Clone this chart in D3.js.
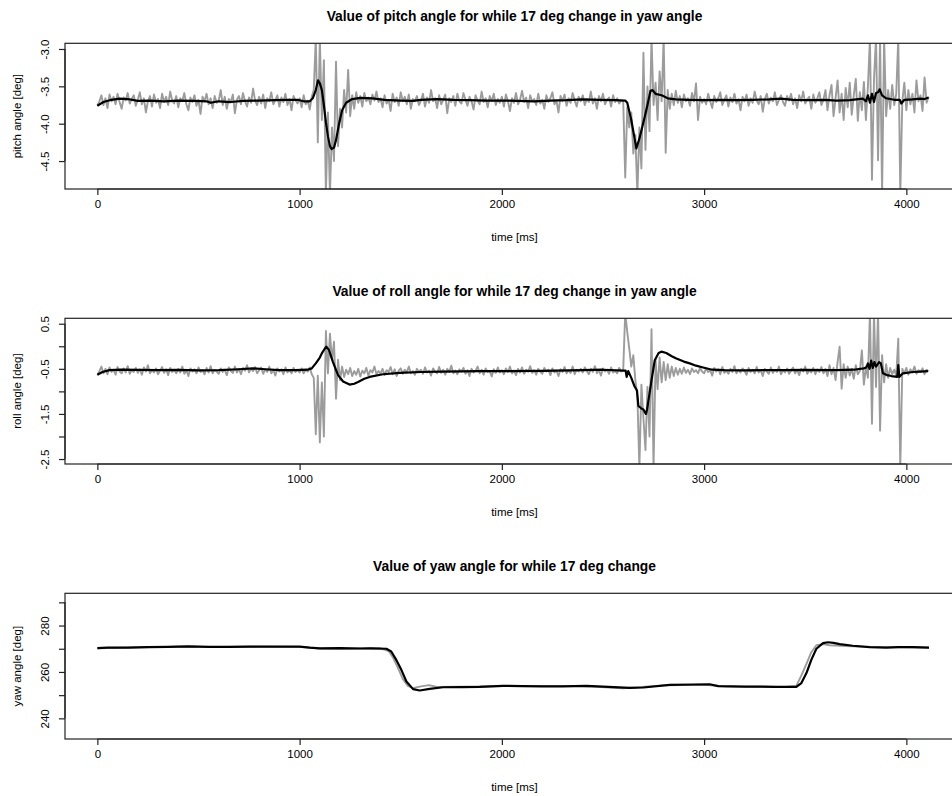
<!DOCTYPE html>
<html>
<head>
<meta charset="utf-8">
<script src="https://cdn.jsdelivr.net/npm/d3@7"></script>
<style>
  html, body { margin: 0; padding: 0; background: #fff; }
  svg { display: block; }
  text { font-family: "Liberation Sans", Arial, Helvetica, sans-serif; fill: #000; }
</style>
</head>
<body>
<svg id="chart" width="952" height="796"></svg>
<script>
// ---------------- DATA ----------------
const titles = [
  "Value of pitch angle for while 17 deg change in yaw angle",
  "Value of roll angle for while 17 deg change in yaw angle",
  "Value of yaw angle for while 17 deg change"
];
const yLabels = ["pitch angle [deg]", "roll angle [deg]", "yaw angle [deg]"];
const xLabel = "time [ms]";
const xTicks = [0, 1000, 2000, 3000, 4000];

const pitchTicks = [-3.0, -3.5, -4.0, -4.5];
const pitchTickLabels = ["-3.0", "-3.5", "-4.0", "-4.5"];
const rollTicks = [0.5, 0, -0.5, -1, -1.5, -2, -2.5];
const rollTickLabels = ["0.5", "", "-0.5", "", "-1.5", "", "-2.5"];
const yawTicks = [290, 280, 270, 260, 250, 240];
const yawTickLabels = ["", "280", "", "260", "", "240"];

// raw samples, every 10 ms from 0 to 4110 ms
const rawStep = 10;
const pitchRaw = [
  -3.76, -3.70, -3.62, -3.75, -3.66, -3.79, -3.61, -3.70, -3.64, -3.74, -3.60, -3.71, -3.80, -3.65, -3.69, -3.59, -3.73, -3.67, -3.62, -3.76,
  -3.68, -3.58, -3.74, -3.66, -3.85, -3.70, -3.63, -3.77, -3.61, -3.72, -3.67, -3.79, -3.60, -3.71, -3.64, -3.75, -3.57, -3.69, -3.73, -3.63,
  -3.78, -3.66, -3.70, -3.59, -3.74, -3.82, -3.65, -3.71, -3.62, -3.76, -3.68, -3.87, -3.64, -3.70, -3.60, -3.74, -3.66, -3.79, -3.63, -3.72,
  -3.69, -3.55, -3.75, -3.64, -3.80, -3.67, -3.71, -3.61, -3.86, -3.68, -3.63, -3.74, -3.59, -3.70, -3.77, -3.65, -3.72, -3.53, -3.69, -3.75,
  -3.64, -3.73, -3.61, -3.79, -3.66, -3.70, -3.58, -3.74, -3.68, -3.62, -3.77, -3.65, -3.71, -3.60, -3.75, -3.67, -3.82, -3.63, -3.69, -3.73,
  -3.66, -3.78, -3.62, -3.74, -3.69, -3.81, -3.64, -3.55, -2.85, -4.25, -2.85, -3.95, -3.15, -4.95, -3.85, -4.95, -4.05, -4.50, -3.17, -4.30,
  -3.80, -4.05, -3.55, -3.85, -3.28, -3.90, -3.62, -3.80, -3.58, -3.72, -3.63, -3.77, -3.59, -3.70, -3.65, -3.74, -3.61, -3.69, -3.57, -3.71,
  -3.66, -3.78, -3.62, -3.73, -3.68, -3.83, -3.60, -3.71, -3.65, -3.76, -3.58, -3.70, -3.64, -3.74, -3.61, -3.80, -3.67, -3.70, -3.63, -3.75,
  -3.69, -3.60, -3.77, -3.65, -3.72, -3.55, -3.70, -3.66, -3.79, -3.62, -3.74, -3.68, -3.61, -3.86, -3.66, -3.71, -3.63, -3.76, -3.60, -3.70,
  -3.73, -3.59, -3.68, -3.76, -3.64, -3.70, -3.81, -3.62, -3.69, -3.74, -3.57, -3.71, -3.66, -3.78, -3.63, -3.70, -3.60, -3.75, -3.67, -3.72,
  -3.64, -3.77, -3.61, -3.70, -3.83, -3.66, -3.72, -3.59, -3.74, -3.68, -3.56, -3.71, -3.65, -3.79, -3.62, -3.70, -3.67, -3.75, -3.60, -3.73,
  -3.68, -3.80, -3.62, -3.71, -3.66, -3.58, -3.74, -3.69, -3.85, -3.63, -3.70, -3.61, -3.76, -3.66, -3.72, -3.59, -3.69, -3.77, -3.64, -3.70,
  -3.62, -3.75, -3.67, -3.71, -3.57, -3.73, -3.66, -3.80, -3.63, -3.70, -3.60, -3.74, -3.68, -3.65, -3.77, -3.62, -3.71, -3.66, -3.73, -3.69,
  -3.70, -4.72, -3.78, -4.05, -3.85, -4.40, -4.15, -4.95, -4.05, -4.60, -3.05, -4.35, -3.50, -4.10, -2.85, -3.75, -3.45, -3.95, -3.30, -3.70,
  -2.85, -4.39, -3.55, -3.80, -3.60, -3.75, -3.56, -3.72, -3.63, -3.78, -3.61, -3.70, -3.66, -3.76, -3.59, -3.70, -3.46, -3.95, -3.64, -3.72,
  -3.67, -3.74, -3.60, -3.70, -3.79, -3.63, -3.71, -3.66, -3.58, -3.75, -3.68, -3.62, -3.77, -3.65, -3.71, -3.60, -3.73, -3.67, -3.82, -3.64,
  -3.70, -3.61, -3.76, -3.66, -3.72, -3.57, -3.69, -3.74, -3.63, -3.84, -3.67, -3.60, -3.73, -3.65, -3.70, -3.58, -3.75, -3.68, -3.62, -3.71,
  -3.76, -3.63, -3.69, -3.60, -3.74, -3.66, -3.79, -3.62, -3.70, -3.57, -3.73, -3.67, -3.64, -3.80, -3.61, -3.72, -3.66, -3.58, -3.75, -3.68,
  -3.55, -3.82, -3.62, -3.48, -3.90, -3.66, -3.42, -3.85, -3.60, -3.95, -3.52, -3.78, -3.45, -3.88, -3.62, -3.40, -3.96, -3.58, -3.82, -3.44,
  -3.95, -3.50, -2.85, -4.75, -3.40, -2.85, -4.49, -2.85, -4.95, -2.85, -3.90, -3.55, -3.80, -3.48, -3.75, -3.60, -2.85, -4.95, -3.70, -3.45,
  -3.82, -3.55, -3.74, -3.60, -3.85, -3.42, -3.70, -3.62, -3.83, -3.38, -3.72, -3.64
];
const rollRaw = [
  -0.64, -0.55, -0.45, -0.60, -0.50, -0.62, -0.47, -0.57, -0.52, -0.63, -0.46, -0.56, -0.60, -0.49, -0.58, -0.44, -0.61, -0.53, -0.57, -0.48,
  -0.59, -0.51, -0.63, -0.47, -0.56, -0.42, -0.60, -0.53, -0.58, -0.49, -0.62, -0.54, -0.46, -0.59, -0.51, -0.64, -0.48, -0.57, -0.52, -0.60,
  -0.50, -0.58, -0.45, -0.61, -0.53, -0.66, -0.49, -0.56, -0.51, -0.60, -0.47, -0.57, -0.53, -0.62, -0.48, -0.58, -0.44, -0.60, -0.52, -0.56,
  -0.61, -0.49, -0.57, -0.52, -0.64, -0.47, -0.55, -0.59, -0.45, -0.58, -0.50, -0.62, -0.48, -0.54, -0.42, -0.58, -0.49, -0.55, -0.46, -0.60,
  -0.53, -0.47, -0.61, -0.51, -0.57, -0.45, -0.60, -0.52, -0.65, -0.49, -0.56, -0.51, -0.62, -0.47, -0.58, -0.53, -0.60, -0.48, -0.57, -0.52,
  -0.58, -0.49, -0.60, -0.52, -0.56, -0.47, -0.62, -0.70, -1.95, -0.65, -2.13, -0.80, -2.00, 0.34, -0.60, 0.28, -0.30, 0.10, -1.16, -0.30,
  -0.75, -0.45, -0.68, -0.52, -0.62, -0.48, -0.66, -0.55, -0.63, -0.50, -0.67, -0.54, -0.60, -0.48, -0.65, -0.53, -0.58, -0.45, -0.62, -0.55,
  -0.60, -0.50, -0.64, -0.53, -0.57, -0.46, -0.62, -0.51, -0.66, -0.54, -0.49, -0.61, -0.52, -0.58, -0.45, -0.60, -0.55, -0.63, -0.50, -0.57,
  -0.52, -0.61, -0.47, -0.58, -0.54, -0.65, -0.49, -0.56, -0.60, -0.46, -0.59, -0.52, -0.63, -0.50, -0.57, -0.43, -0.60, -0.54, -0.62, -0.51,
  -0.56, -0.48, -0.61, -0.53, -0.66, -0.50, -0.58, -0.54, -0.45, -0.60, -0.52, -0.63, -0.49, -0.57, -0.55, -0.67, -0.51, -0.59, -0.47, -0.58,
  -0.53, -0.62, -0.49, -0.57, -0.45, -0.60, -0.54, -0.64, -0.50, -0.58, -0.47, -0.61, -0.52, -0.56, -0.44, -0.59, -0.53, -0.63, -0.50, -0.57,
  -0.61, -0.48, -0.56, -0.52, -0.64, -0.49, -0.58, -0.54, -0.66, -0.51, -0.57, -0.46, -0.60, -0.53, -0.59, -0.45, -0.62, -0.52, -0.56, -0.50,
  -0.58, -0.47, -0.55, -0.62, -0.50, -0.57, -0.44, -0.60, -0.53, -0.65, -0.49, -0.56, -0.52, -0.61, -0.47, -0.58, -0.54, -0.60, -0.48, -0.56,
  -0.52, 0.75, 0.32, -0.05, -0.45, -0.20, -0.75, -1.10, -2.70, -0.85, -1.60, -2.30, -0.90, -2.00, 0.38, -2.70, -0.30, -0.95, -0.25, -0.80,
  -0.35, -0.75, -0.40, -0.70, -0.45, -0.66, -0.48, -0.63, -0.50, -0.61, -0.47, -0.59, -0.52, -0.62, -0.49, -0.57, -0.53, -0.60, -0.48, -0.56,
  -0.60, -0.49, -0.57, -0.53, -0.65, -0.48, -0.56, -0.51, -0.62, -0.46, -0.59, -0.54, -0.61, -0.50, -0.57, -0.44, -0.60, -0.52, -0.58, -0.49,
  -0.55, -0.63, -0.48, -0.57, -0.52, -0.60, -0.46, -0.58, -0.53, -0.66, -0.50, -0.56, -0.61, -0.47, -0.59, -0.52, -0.57, -0.45, -0.62, -0.53,
  -0.58, -0.49, -0.61, -0.54, -0.47, -0.60, -0.52, -0.64, -0.50, -0.56, -0.45, -0.61, -0.53, -0.58, -0.48, -0.62, -0.51, -0.57, -0.46, -0.60,
  -0.50, -0.66, -0.42, -0.62, -0.48, -0.75, -0.35, -0.01, -0.94, -0.40, -0.70, -0.45, -0.65, -0.50, -0.72, -0.42, -0.62, -0.55, -0.09, -0.85,
  -0.45, -0.70, 0.75, -1.72, 0.75, -0.90, 0.75, -1.87, -0.20, -0.80, -0.40, -0.70, -0.48, -0.62, -0.52, -0.66, 0.17, -2.70, -0.50, -0.60,
  -0.48, -0.63, -0.51, -0.58, -0.45, -0.61, -0.53, -0.57, -0.49, -0.62, -0.52, -0.56
];

// smoothed series (time ms, value deg)
const pitchSmoothT = [0,30,70,110,150,200,260,330,400,480,540,560,600,660,720,800,880,950,990,1020,1050,1065,1080,1091,1100,1110,1120,1130,1140,1150,1158,1170,1180,1195,1210,1230,1260,1300,1360,1420,1500,1560,1600,1680,1760,1840,1920,2000,2080,2160,2240,2320,2400,2480,2560,2610,2620,2640,2665,2680,2700,2720,2735,2745,2760,2790,2820,2860,2920,3000,3080,3160,3240,3320,3380,3440,3520,3600,3654,3720,3785,3800,3810,3820,3830,3840,3850,3860,3868,3880,3900,3940,3967,3975,3990,4030,4070,4090,4110];
const pitchSmoothV = [-3.76,-3.71,-3.68,-3.665,-3.67,-3.695,-3.69,-3.70,-3.69,-3.695,-3.70,-3.72,-3.70,-3.71,-3.695,-3.69,-3.685,-3.68,-3.68,-3.70,-3.70,-3.66,-3.55,-3.42,-3.46,-3.55,-3.75,-3.98,-4.17,-4.30,-4.34,-4.32,-4.22,-4.00,-3.82,-3.72,-3.67,-3.655,-3.66,-3.68,-3.69,-3.695,-3.68,-3.67,-3.68,-3.685,-3.69,-3.69,-3.695,-3.70,-3.69,-3.685,-3.675,-3.68,-3.685,-3.69,-3.72,-3.95,-4.33,-4.20,-3.98,-3.75,-3.56,-3.55,-3.60,-3.62,-3.66,-3.675,-3.68,-3.685,-3.68,-3.685,-3.68,-3.675,-3.665,-3.68,-3.685,-3.68,-3.69,-3.685,-3.665,-3.70,-3.62,-3.72,-3.60,-3.71,-3.59,-3.58,-3.54,-3.62,-3.66,-3.68,-3.68,-3.73,-3.68,-3.675,-3.665,-3.67,-3.65];

const rollSmoothT = [0,25,60,120,200,300,400,500,600,700,770,830,900,980,1040,1060,1080,1100,1112,1125,1132,1145,1165,1190,1215,1247,1270,1289,1320,1346,1412,1495,1600,1700,1890,2000,2200,2400,2500,2600,2612,2617,2625,2640,2655,2668,2675,2690,2700,2712,2718,2725,2740,2756,2775,2789,2813,2840,2863,2900,2929,2960,2995,3040,3100,3200,3300,3400,3500,3600,3654,3740,3790,3802,3810,3818,3826,3834,3842,3850,3865,3874,3884,3905,3926,3955,3960,3965,3983,4033,4070,4107];
const rollSmoothV = [-0.63,-0.57,-0.53,-0.52,-0.525,-0.53,-0.525,-0.535,-0.53,-0.51,-0.49,-0.51,-0.53,-0.53,-0.52,-0.49,-0.38,-0.25,-0.14,-0.05,-0.01,-0.08,-0.35,-0.64,-0.78,-0.85,-0.83,-0.79,-0.72,-0.68,-0.62,-0.59,-0.57,-0.56,-0.55,-0.55,-0.545,-0.53,-0.52,-0.54,-0.54,-0.68,-0.55,-0.70,-0.88,-0.98,-1.32,-1.38,-1.40,-1.50,-1.40,-1.20,-0.75,-0.31,-0.15,-0.12,-0.15,-0.22,-0.27,-0.34,-0.38,-0.43,-0.47,-0.52,-0.53,-0.535,-0.53,-0.53,-0.525,-0.53,-0.53,-0.52,-0.49,-0.47,-0.38,-0.50,-0.32,-0.48,-0.35,-0.45,-0.35,-0.38,-0.60,-0.64,-0.66,-0.68,-0.42,-0.68,-0.60,-0.57,-0.56,-0.55];

const yawRawT = [0,200,400,600,800,1000,1100,1200,1300,1400,1440,1460,1485,1510,1535,1560,1600,1640,1680,1800,2000,2400,2600,2800,3000,3100,3400,3456,3481,3506,3530,3555,3588,3620,3700,3800,4000,4112];
const yawRawV = [270.2,270.6,270.9,270.8,270.9,270.8,270.1,270.0,270.1,270.2,269.0,266.5,262.0,257.0,254.0,253.0,253.8,254.3,253.5,253.6,253.9,253.9,253.0,254.2,254.5,253.8,253.5,254.0,258.5,263.5,268.5,271.5,272.0,271.5,271.2,270.8,270.6,270.5];
const yawSmoothT = [0,50,150,250,350,450,550,650,750,850,950,1000,1050,1100,1200,1300,1350,1429,1453,1478,1503,1528,1561,1594,1643,1709,1800,1890,2005,2100,2200,2300,2418,2500,2632,2700,2830,2950,3027,3070,3200,3350,3456,3481,3506,3530,3555,3588,3612,3640,3670,3735,3819,3901,3960,4033,4112];
const yawSmoothV = [270.3,270.5,270.5,270.7,270.8,271.0,270.8,270.8,270.9,270.9,270.9,270.9,270.5,270.2,270.3,270.1,270.2,270.0,268.8,265.2,260.9,255.9,252.6,252.0,252.7,253.4,253.5,253.6,254.0,253.9,253.8,253.8,254.0,253.7,253.1,253.3,254.4,254.6,254.7,253.9,253.7,253.6,253.6,255.2,259.5,265.2,270.0,272.4,272.8,272.5,272.0,271.3,270.7,270.5,270.7,270.7,270.5];

// ---------------- LAYOUT ----------------
const svg = d3.select("#chart");
const plotLeft = 65, plotRight = 964;
const panelTop0 = 43.3, panelH = 145.7, panelGap = 275;
const grayColor = "#9c9c9c";

const rawTimes = d3.range(0, pitchRaw.length).map(i => i * rawStep);

const panels = [
  { title: titles[0], ylab: yLabels[0], yDom: [-4.874, -2.924], ticks: pitchTicks, tickLabels: pitchTickLabels,
    raw: rawTimes.map((t, i) => [t, pitchRaw[i]]),
    smooth: pitchSmoothT.map((t, i) => [t, pitchSmoothV[i]]) },
  { title: titles[1], ylab: yLabels[1], yDom: [-2.61, 0.62], ticks: rollTicks, tickLabels: rollTickLabels,
    raw: rawTimes.map((t, i) => [t, rollRaw[i]]),
    smooth: rollSmoothT.map((t, i) => [t, rollSmoothV[i]]) },
  { title: titles[2], ylab: yLabels[2], yDom: [231.1, 293.9], ticks: yawTicks, tickLabels: yawTickLabels,
    raw: yawRawT.map((t, i) => [t, yawRawV[i]]),
    smooth: yawSmoothT.map((t, i) => [t, yawSmoothV[i]]) }
];

const x = d3.scaleLinear().domain([-160, 4285]).range([plotLeft, plotRight]);

panels.forEach((p, k) => {
  const top = panelTop0 + k * panelGap;
  const bottom = top + panelH;
  const y = d3.scaleLinear().domain(p.yDom).range([bottom, top]);
  const g = svg.append("g");

  const clipId = "clip" + k;
  svg.append("clipPath").attr("id", clipId)
    .append("rect").attr("x", plotLeft).attr("y", top)
    .attr("width", plotRight - plotLeft).attr("height", panelH);

  const line = d3.line().x(d => x(d[0])).y(d => y(d[1]));

  const lines = g.append("g").attr("clip-path", `url(#${clipId})`);
  lines.append("path").datum(p.raw)
    .attr("d", line).attr("fill", "none")
    .attr("stroke", grayColor).attr("stroke-width", 1.9).attr("stroke-linejoin", "round");
  lines.append("path").datum(p.smooth)
    .attr("d", line).attr("fill", "none")
    .attr("stroke", "#000").attr("stroke-width", 2.2).attr("stroke-linejoin", "round");

  // box
  g.append("rect").attr("x", plotLeft).attr("y", top)
    .attr("width", plotRight - plotLeft).attr("height", panelH)
    .attr("fill", "none").attr("stroke", "#222").attr("stroke-width", 1.2);

  // x axis
  const xAxis = d3.axisBottom(x).tickValues(xTicks).tickSize(6).tickPadding(5)
    .tickFormat(d3.format("d"));
  const xa = g.append("g").attr("transform", `translate(0,${bottom})`).call(xAxis);
  xa.select(".domain").attr("d", `M${x(0)},0H${x(4000)}`).attr("stroke", "#222").attr("stroke-width", 1.2);
  xa.selectAll(".tick line").attr("stroke", "#222").attr("stroke-width", 1.2);
  xa.selectAll(".tick text").attr("font-size", "11.5px")
    .attr("font-family", "'Liberation Sans', Arial, sans-serif").attr("fill", "#111");

  // y axis
  const yAxis = d3.axisLeft(y).tickValues(p.ticks).tickSize(6)
    .tickFormat((d, i) => p.tickLabels[i]);
  const ya = g.append("g").attr("transform", `translate(${plotLeft},0)`).call(yAxis);
  ya.select(".domain").attr("d", `M0,${y(p.ticks[0])}V${y(p.ticks[p.ticks.length - 1])}`)
    .attr("stroke", "#222").attr("stroke-width", 1.2);
  ya.selectAll(".tick line").attr("stroke", "#222").attr("stroke-width", 1.2);
  ya.selectAll(".tick text")
    .attr("font-size", "11.5px").attr("font-family", "'Liberation Sans', Arial, sans-serif")
    .attr("fill", "#111")
    .attr("x", null)
    .attr("text-anchor", "middle")
    .attr("transform", "translate(-20.5,0) rotate(-90)")
    .attr("dy", "0.35em");

  // labels
  g.append("text").attr("x", (plotLeft + plotRight) / 2).attr("y", top - 22.8)
    .attr("text-anchor", "middle").attr("font-size", "13.8px").attr("font-weight", "bold")
    .text(p.title);
  g.append("text").attr("x", (plotLeft + plotRight) / 2).attr("y", bottom + 52)
    .attr("text-anchor", "middle").attr("font-size", "11.5px")
    .text(xLabel);
  g.append("text")
    .attr("transform", `translate(21,${(top + bottom) / 2}) rotate(-90)`)
    .attr("text-anchor", "middle").attr("font-size", "11.5px")
    .text(p.ylab);
});
</script>
</body>
</html>
